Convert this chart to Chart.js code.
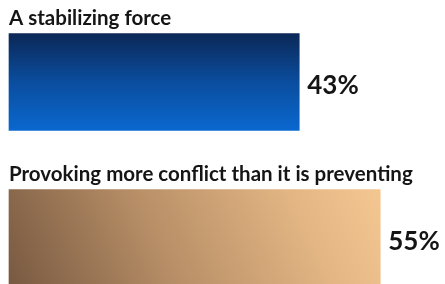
<!DOCTYPE html>
<html>
<head>
<meta charset="utf-8">
<script src="https://cdn.jsdelivr.net/npm/chart.js@4/dist/chart.umd.min.js"></script>
<style>
  html, body { margin: 0; padding: 0; background: #fff; }
  #wrap { width: 445px; height: 284px; }
</style>
</head>
<body>
<div id="wrap"><canvas id="chart"></canvas></div>
<script>
// data
const categories = ['A stabilizing force', 'Provoking more conflict than it is preventing'];
const values = [43, 55];
const valueLabels = ['43%', '55%'];

const labelFont = 'bold 20.5px Lato';
const valueFont = 'bold 26px Lato';
const thickness = 97;

// vertical gradient for the blue bar, diagonal one for the tan bar
function barFill(ctx) {
  const chart = ctx.chart;
  const i = ctx.dataIndex;
  if (!chart.chartArea) return i === 0 ? '#0a4a9a' : '#c89a6a';
  const xs = chart.scales.x, ys = chart.scales.y;
  const yc = ys.getPixelForValue(i);
  const top = yc - thickness / 2, bottom = yc + thickness / 2;
  const left = xs.getPixelForValue(0);
  const right = xs.getPixelForValue(values[i]);
  const c = chart.ctx;
  if (i === 0) {
    const g = c.createLinearGradient(0, top, 0, bottom);
    g.addColorStop(0, '#0b2857');
    g.addColorStop(0.5, '#0a4d9e');
    g.addColorStop(1, '#0a68cf');
    return g;
  }
  // dark at bottom-left, light towards top-right
  const g = c.createLinearGradient(left, bottom, right - 20, top - 70);
  g.addColorStop(0, '#785941');
  g.addColorStop(0.4, '#b88f67');
  g.addColorStop(0.75, '#e2b583');
  g.addColorStop(1, '#f6c994');
  return g;
}

const textPlugin = {
  id: 'barTexts',
  afterDatasetsDraw(chart) {
    const c = chart.ctx;
    const meta = chart.getDatasetMeta(0);
    c.save();
    c.fillStyle = '#151515';
    meta.data.forEach((bar, i) => {
      const top = bar.y - bar.height / 2;
      c.font = labelFont;
      c.textAlign = 'left';
      c.textBaseline = 'alphabetic';
      c.fillText(categories[i], bar.base, top - 9);
      c.font = valueFont;
      c.textBaseline = 'middle';
      c.fillText(valueLabels[i], bar.x + 8, bar.y + 4);
    });
    c.restore();
  }
};

new Chart(document.getElementById('chart'), {
  type: 'bar',
  data: {
    labels: categories,
    datasets: [{
      data: values,
      backgroundColor: barFill,
      borderWidth: 0,
      barThickness: thickness,
      clip: false
    }]
  },
  options: {
    indexAxis: 'y',
    responsive: true,
    maintainAspectRatio: false,
    animation: false,
    layout: { padding: { left: 9, right: 4, top: 82, bottom: 46 } },
    plugins: { legend: { display: false }, tooltip: { enabled: false } },
    scales: {
      x: { min: 0, max: 64, display: false, grid: { display: false } },
      y: { display: false, offset: false, grid: { display: false } }
    }
  },
  plugins: [textPlugin]
});
</script>
</body>
</html>
